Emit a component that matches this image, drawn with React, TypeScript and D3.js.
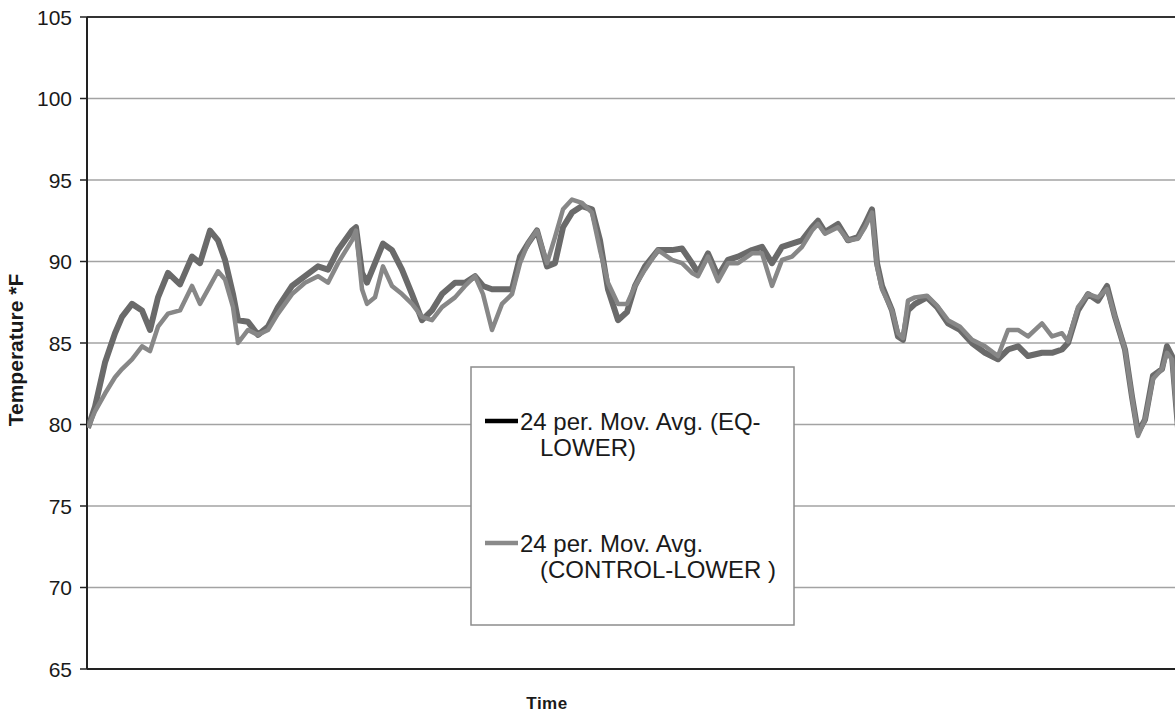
import React from "react";
import * as d3 from "d3";

// time index (readings) and moving-average temperatures
const timeIdx = [
  0, 7, 17, 27, 34, 44, 54, 62, 70, 80, 92, 104, 112, 122, 130, 137, 145, 150, 160, 170,
  180, 190, 204, 217, 230, 240, 250, 264, 268, 274, 279, 287, 295, 304, 314, 324, 334, 344,
  354, 367, 377, 387, 395, 404, 414, 424, 432, 440, 449, 459, 467, 475, 484, 494, 504, 512,
  520, 530, 539, 547, 557, 570, 584, 594, 604, 610, 620, 630, 640, 650, 664, 674, 684, 694,
  704, 714, 724, 730, 737, 750, 760, 770, 777, 784, 789, 794, 804, 810, 815, 820, 827, 839,
  849, 860, 872, 884, 897, 910, 920, 930, 940, 954, 964, 974, 980, 990, 1000, 1010, 1019,
  1027, 1037, 1044, 1050, 1057, 1065, 1074, 1079, 1084, 1090,
];

const eqLower = [
  79.8, 81.1, 83.8, 85.6, 86.6, 87.4, 87.0, 85.8, 87.8, 89.3, 88.6, 90.3, 89.9, 91.9, 91.3, 90.1,
  88.0, 86.4, 86.3, 85.5, 86.0, 87.2, 88.5, 89.1, 89.7, 89.5, 90.7, 91.9, 92.1, 89.3, 88.7, 89.9,
  91.1, 90.7, 89.5, 88.0, 86.4, 87.0, 88.0, 88.7, 88.7, 89.1, 88.5, 88.3, 88.3, 88.3, 90.3, 91.1,
  91.9, 89.7, 89.9, 92.1, 93.0, 93.4, 93.2, 91.3, 88.3, 86.4, 86.9, 88.5, 89.7, 90.7, 90.7, 90.8,
  89.9, 89.3, 90.5, 89.1, 90.1, 90.3, 90.7, 90.9, 89.9, 90.9, 91.1, 91.3, 92.1, 92.5, 91.8, 92.3,
  91.3, 91.5, 92.3, 93.2, 89.9, 88.5, 87.0, 85.4, 85.2, 87.0, 87.4, 87.8, 87.2, 86.2, 85.8, 85.0,
  84.4, 84.0, 84.6, 84.8, 84.2, 84.4, 84.4, 84.6, 85.0, 87.0, 88.0, 87.6, 88.5, 86.6, 84.6, 81.7,
  79.5, 80.3, 83.0, 83.4, 84.8, 84.2, 79.8,
];

const controlLower = [
  79.8, 80.8, 81.9, 82.9, 83.4, 84.0, 84.8, 84.5, 86.0, 86.8, 87.0, 88.5, 87.4, 88.5, 89.4, 88.9,
  87.2, 85.0, 85.8, 85.5, 85.8, 86.8, 88.0, 88.7, 89.1, 88.7, 89.9, 91.3, 91.9, 88.3, 87.4, 87.8,
  89.7, 88.5, 88.0, 87.4, 86.6, 86.4, 87.2, 87.8, 88.5, 89.1, 88.0, 85.8, 87.4, 88.0, 89.9, 91.1,
  91.9, 89.9, 91.5, 93.2, 93.8, 93.6, 93.0, 90.7, 88.7, 87.4, 87.4, 88.5, 89.5, 90.7, 90.1, 89.9,
  89.3, 89.1, 90.3, 88.8, 89.9, 89.9, 90.5, 90.5, 88.5, 90.1, 90.3, 90.9, 91.9, 92.3, 91.7, 92.1,
  91.3, 91.4, 92.1, 93.0, 89.7, 88.3, 87.0, 85.6, 85.3, 87.6, 87.8, 87.9, 87.3, 86.4, 86.0, 85.2,
  84.8, 84.2, 85.8, 85.8, 85.4, 86.2, 85.4, 85.6, 85.1, 87.2, 88.0, 87.8, 88.3, 86.6, 84.6, 81.7,
  79.3, 80.3, 82.8, 83.4, 84.4, 84.0, 79.8,
];

const yTicks = [65, 70, 75, 80, 85, 90, 95, 100, 105];
const legendItems = [
  { lines: ["24 per. Mov. Avg. (EQ-", "LOWER)"], color: "#000000" },
  { lines: ["24 per. Mov. Avg.", "(CONTROL-LOWER )"], color: "#8a8a8a" },
];

const W = 1175;
const H = 713;
const left = 87;
const top = 17;
const bottom = 669;
const right = 1178;

export default function App() {
  const x = d3.scaleLinear().domain([0, 1090]).range([left + 1, right]);
  const y = d3.scaleLinear().domain([65, 105]).range([bottom, top]);

  const line = d3
    .line<number>()
    .x((d, i) => x(timeIdx[i]))
    .y((d) => y(d))
    .curve(d3.curveLinear);

  const font = "Arial, 'Liberation Sans', sans-serif";

  return (
    <svg
      width={W}
      height={H}
      viewBox={`0 0 ${W} ${H}`}
      style={{ position: "absolute", left: 0, top: 0, background: "#fff" }}
      fontFamily={font}
    >
      <defs>
        <clipPath id="plot-clip">
          <rect x={left} y={top - 4} width={right - left} height={bottom - top + 8} />
        </clipPath>
      </defs>

      {/* gridlines */}
      {yTicks
        .filter((t) => t !== 65 && t !== 105)
        .map((t) => (
          <line key={t} x1={left} x2={W} y1={y(t)} y2={y(t)} stroke="#a3a3a3" strokeWidth={1.5} />
        ))}

      {/* frame */}
      <line x1={left} x2={W} y1={y(105)} y2={y(105)} stroke="#333" strokeWidth={1.8} />
      <line x1={left} x2={W} y1={y(65)} y2={y(65)} stroke="#222" strokeWidth={2} />
      <line x1={left} x2={left} y1={y(105)} y2={y(65)} stroke="#222" strokeWidth={2} />

      {/* y ticks + labels */}
      {yTicks.map((t) => (
        <g key={t}>
          <line x1={left - 7} x2={left} y1={y(t)} y2={y(t)} stroke="#222" strokeWidth={1.5} />
          <text x={72} y={y(t)} dy="0.36em" textAnchor="end" fontSize={21} fill="#1a1a1a">
            {t}
          </text>
        </g>
      ))}

      {/* series */}
      <g clipPath="url(#plot-clip)">
        <path
          d={line(eqLower) || ""}
          fill="none"
          stroke="#6a6a6a"
          strokeWidth={6}
          strokeLinejoin="round"
        />
        <path
          d={line(controlLower) || ""}
          fill="none"
          stroke="#878787"
          strokeWidth={4.5}
          strokeLinejoin="round"
        />
      </g>

      {/* axis titles */}
      <text
        transform={`translate(23, 350) rotate(-90)`}
        textAnchor="middle"
        fontSize={21}
        fontWeight="bold"
        fill="#1a1a1a"
      >
        Temperature *F
      </text>
      <text x={547} y={709} textAnchor="middle" fontSize={17} fontWeight="bold" fill="#1a1a1a" letterSpacing={0.5}>
        Time
      </text>

      {/* legend */}
      <g>
        <rect x={471} y={367} width={323} height={258} fill="#fff" stroke="#8c8c8c" strokeWidth={1.5} />
        {legendItems.map((item, i) => {
          const base = 421 + i * 122;
          return (
            <g key={i}>
              <line x1={485} x2={518} y1={base} y2={base} stroke={item.color} strokeWidth={4.5} />
              <text x={520} y={base + 9} fontSize={24} fill="#1a1a1a">
                {item.lines[0]}
              </text>
              <text x={540} y={base + 35} fontSize={24} fill="#1a1a1a">
                {item.lines[1]}
              </text>
            </g>
          );
        })}
      </g>
    </svg>
  );
}
